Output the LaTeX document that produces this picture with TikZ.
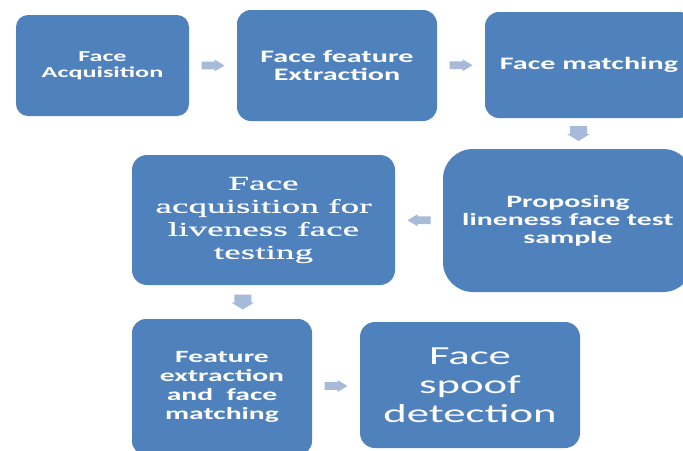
\documentclass[tikz,border=0pt]{standalone}
\usepackage{fontspec}
\usetikzlibrary{calc}
\newfontfamily\boxsans[FakeStretch=1.72]{Carlito}
\newfontfamily\boxserif[FakeStretch=1.9,FakeBold=0.6]{Liberation Serif}
\definecolor{boxblue}{RGB}{79,129,189}
\definecolor{arrowblue}{RGB}{167,186,217}
\tikzset{
  stage/.style={rectangle, fill=boxblue, text=white, align=center, inner sep=0pt},
  % flat block arrow pointing right
  harrow/.pic={\fill[arrowblue] (-11.5,-3.8) -- (1.5,-3.8) -- (1.5,-6) -- (11.5,0)
      -- (1.5,6) -- (1.5,3.8) -- (-11.5,3.8) -- cycle;},
  % short wide block arrow pointing down
  varrow/.pic={\fill[arrowblue] (-8.5,-7.5) -- (8.5,-7.5) -- (8.5,0.5) -- (11.5,0.5)
      -- (0,7.5) -- (-11.5,0.5) -- (-8.5,0.5) -- cycle;}
}
\begin{document}
\begin{tikzpicture}[x=1pt,y=-1pt]
\clip (0,0) rectangle (683,450);
\fill[white] (0,0) rectangle (683,450);

% process stages
\node[stage, minimum width=173pt, minimum height=101pt, rounded corners=12pt,
  font=\boxsans\bfseries\fontsize{15.2}{15.8}\selectfont] (b1) at (102.5,65.5) {Face\\Acquisition};
\node[stage, minimum width=200pt, minimum height=111pt, rounded corners=14pt,
  font=\boxsans\bfseries\fontsize{17.5}{18.6}\selectfont] (b2) at (337,65.5) {Face feature\\Extraction};
\node[stage, minimum width=208pt, minimum height=106pt, rounded corners=14pt,
  font=\boxsans\bfseries\fontsize{17.5}{18.6}\selectfont] (b3) at (589,65) {Face matching};
\node[stage, minimum width=250pt, minimum height=143pt, rounded corners=30pt,
  font=\boxsans\bfseries\fontsize{17.3}{18}\selectfont] (b4) at (568,220.5) {Proposing\\lineness face test\\sample};
\node[stage, minimum width=263pt, minimum height=130pt, rounded corners=15pt,
  font=\boxserif\fontsize{19.6}{23}\selectfont] (b5) at (263.5,220) {Face\\acquisition for\\liveness face\\testing};
\node[stage, minimum width=180pt, minimum height=136pt, rounded corners=14pt,
  font=\boxsans\bfseries\fontsize{17.2}{19}\selectfont] (b6) at (222,387) {Feature\\extraction\\and\ \ face\\matching};
\node[stage, minimum width=220pt, minimum height=126pt, rounded corners=15pt,
  font=\boxsans\fontsize{26}{29}\selectfont] (b7) at (470,385) {Face\\spoof\\detection};

% block arrows between stages
\coordinate (a1) at ($(b1.east)!0.5!(b2.west)$);
\coordinate (a2) at ($(b2.east)!0.5!(b3.west)$);
\coordinate (a3) at ($(b3.south)!0.5!(b4.north)$);
\coordinate (a4) at ($(b4.west)!0.5!(b5.east)$);
\coordinate (a5) at ($(b5.south)!0.5!(b6.north)$);
\coordinate (a6) at ($(b6.east)!0.5!(b7.west)$);
\pic at (a1) {harrow};
\pic at (a2) {harrow};
\pic at (a3) {varrow};
\pic[xscale=-1] at (a4) {harrow};
\pic at (a5) {varrow};
\pic at (a6) {harrow};
\end{tikzpicture}
\end{document}
